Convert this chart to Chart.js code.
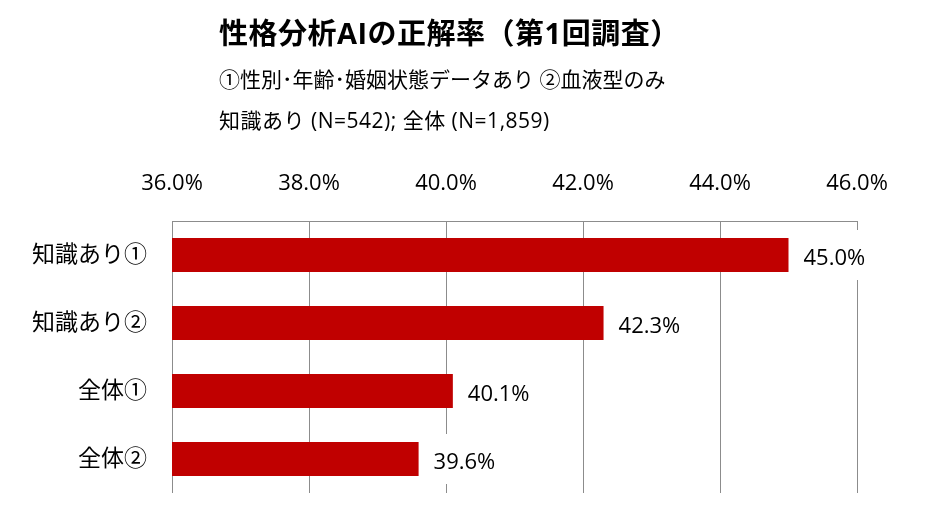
<!DOCTYPE html>
<html>
<head>
<meta charset="utf-8">
<script src="https://cdn.jsdelivr.net/npm/chart.js@4.4.0/dist/chart.umd.min.js"></script>
<style>
  body { margin: 0; background: #fff; }
  #wrap { width: 925px; height: 523px; }
</style>
</head>
<body>
<div id="wrap"><canvas id="accuracy"></canvas></div>
<script>
const categories = ['知識あり①', '知識あり②', '全体①', '全体②']
const rates = [45.0, 42.3, 40.1, 39.6]
const tickMin = 36, tickMax = 46, tickStep = 2

const titleText = '性格分析AIの正解率（第1回調査）'
const subLines = ['①性別･年齢･婚姻状態データあり ②血液型のみ', '知識あり (N=542); 全体 (N=1,859)']

const FONT = '"Open Sans", "Noto Sans CJK JP", sans-serif'
const gridGray = '#8c8c8c'

// heading text in the top-left
const headingPlugin = {
    id: 'heading',
    afterDraw(chart) {
        const ctx = chart.ctx
        ctx.save()
        ctx.fillStyle = '#000'
        ctx.textAlign = 'left'
        ctx.textBaseline = 'middle'
        ctx.letterSpacing = '0.5px'
        ctx.font = 'bold 29px ' + FONT
        ctx.fillText(titleText, 219, 36)
        ctx.letterSpacing = '0px'
        ctx.font = '21px ' + FONT
        ctx.fillText(subLines[0], 219, 81)
        ctx.letterSpacing = '0.5px'
        ctx.fillText(subLines[1], 219, 122)
        ctx.restore()
    }
}

// value labels right of each bar, on a white box that hides the grid
const valueLabels = {
    id: 'valueLabels',
    afterDatasetsDraw(chart) {
        const ctx = chart.ctx
        const meta = chart.getDatasetMeta(0)
        ctx.save()
        ctx.font = '22px ' + FONT
        ctx.textAlign = 'left'
        ctx.textBaseline = 'middle'
        meta.data.forEach((bar, i) => {
            const txt = rates[i].toFixed(1) + '%'
            const x = bar.x + 15
            const w = ctx.measureText(txt).width
            ctx.fillStyle = '#fff'
            ctx.fillRect(x - 6, bar.y - 25, w + 12, 50)
            ctx.fillStyle = '#000'
            ctx.fillText(txt, x, bar.y + 4)
        })
        ctx.restore()
    }
}

const ctx = document.getElementById('accuracy')
const myChart = new Chart(ctx, {
    type: 'bar',
    data: {
        labels: categories,
        datasets: [{
            data: rates,
            backgroundColor: '#c00000',
            barPercentage: 0.5,
            categoryPercentage: 1.0
        }]
    },
    options: {
        indexAxis: 'y',
        responsive: true,
        maintainAspectRatio: false,
        animation: false,
        layout: { padding: { top: 150, right: 68, bottom: 30, left: 0 } },
        plugins: {
            legend: { display: false },
            tooltip: { enabled: false }
        },
        scales: {
            x: {
                position: 'top',
                min: tickMin,
                max: tickMax,
                afterFit(scale) {
                    scale.height = 71
                    scale.paddingLeft = 0
                    scale.paddingRight = 0
                },
                ticks: {
                    stepSize: tickStep,
                    padding: 24,
                    color: '#000',
                    font: { family: FONT, size: 22 },
                    callback: v => v.toFixed(1) + '%'
                },
                grid: { color: gridGray, drawTicks: false },
                border: { display: true, color: gridGray }
            },
            y: {
                afterFit(scale) {
                    scale.width = 172
                    scale.paddingTop = 0
                    scale.paddingBottom = 0
                },
                ticks: {
                    padding: 17,
                    color: '#000',
                    font: { family: FONT, size: 23 }
                },
                grid: { display: false },
                border: { display: false }
            }
        }
    },
    plugins: [headingPlugin, valueLabels]
})
</script>
</body>
</html>
